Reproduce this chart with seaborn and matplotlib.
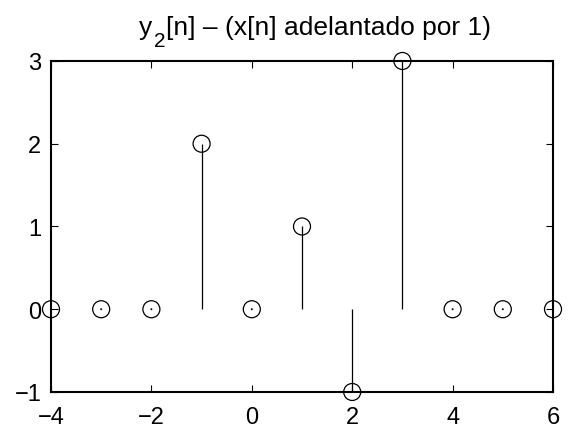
import matplotlib
matplotlib.use("Agg")
import matplotlib.pyplot as plt
import seaborn as sns
import pandas as pd

n = [-4, -3, -2, -1, 0, 1, 2, 3, 4, 5, 6]
y2 = [0, 0, 0, 2, 0, 1, -1, 3, 0, 0, 0]
xticks = [-4, -2, 0, 2, 4, 6]
yticks = [-1, 0, 1, 2, 3]
title_parts = ["y", "2", "[n] \u2013 (x[n] adelantado por 1)"]

sns.set_theme(style="white")
plt.rcParams['font.family'] = ['Liberation Sans', 'DejaVu Sans']
plt.rcParams['text.color'] = 'black'

df = pd.DataFrame({"n": n, "y": y2})

fig = plt.figure(figsize=(5.71, 4.35), dpi=100)
ax = fig.add_axes([0.0893, 0.0966, 0.8792, 0.7609])

ax.vlines(df["n"], 0, df["y"], colors="black", linewidth=0.9)
zeros = df[df["y"] == 0]
sns.scatterplot(data=zeros, x="n", y="y", ax=ax, s=2, color="black",
                edgecolor="none", legend=False, zorder=3)
sns.scatterplot(data=df, x="n", y="y", ax=ax, s=150, facecolor="none",
                edgecolor="black", linewidth=0.9, legend=False, zorder=4,
                clip_on=False)

ax.set_xlim(-4, 6)
ax.set_ylim(-1, 3)
ax.set_xticks(xticks)
ax.set_yticks(yticks)
ax.set_xlabel("")
ax.set_ylabel("")
ax.tick_params(direction="in", length=5, width=0.8, labelsize=17,
               top=True, right=True, bottom=True, left=True,
               colors="black", labelcolor="black")
ax.tick_params(axis="x", pad=10)
ax.tick_params(axis="y", pad=7)
for s in ax.spines.values():
    s.set_visible(True)
    s.set_color("black")
    s.set_linewidth(1.5)

# Title composed MATLAB-style: large lowered subscript
fig.canvas.draw()
renderer = fig.canvas.get_renderer()
fs = 19
sub_fs = 15
tmp = [fig.text(0, 0, title_parts[0], fontsize=fs, color="black"),
       fig.text(0, 0, title_parts[1], fontsize=sub_fs, color="black"),
       fig.text(0, 0, title_parts[2], fontsize=fs, color="black")]
widths = [t.get_window_extent(renderer).width for t in tmp]
total = sum(widths) + 3
W, H = fig.get_size_inches() * fig.dpi
cx = 315
base_y = H - 35
x0 = cx - total / 2
ys = [base_y, base_y - 12, base_y]
gaps = [2, 1, 0]
for t, w, yy, g in zip(tmp, widths, ys, gaps):
    t.set_position((x0 / W, yy / H))
    t.set_va("baseline")
    x0 += w + g

fig.savefig("out.png", dpi=100)
